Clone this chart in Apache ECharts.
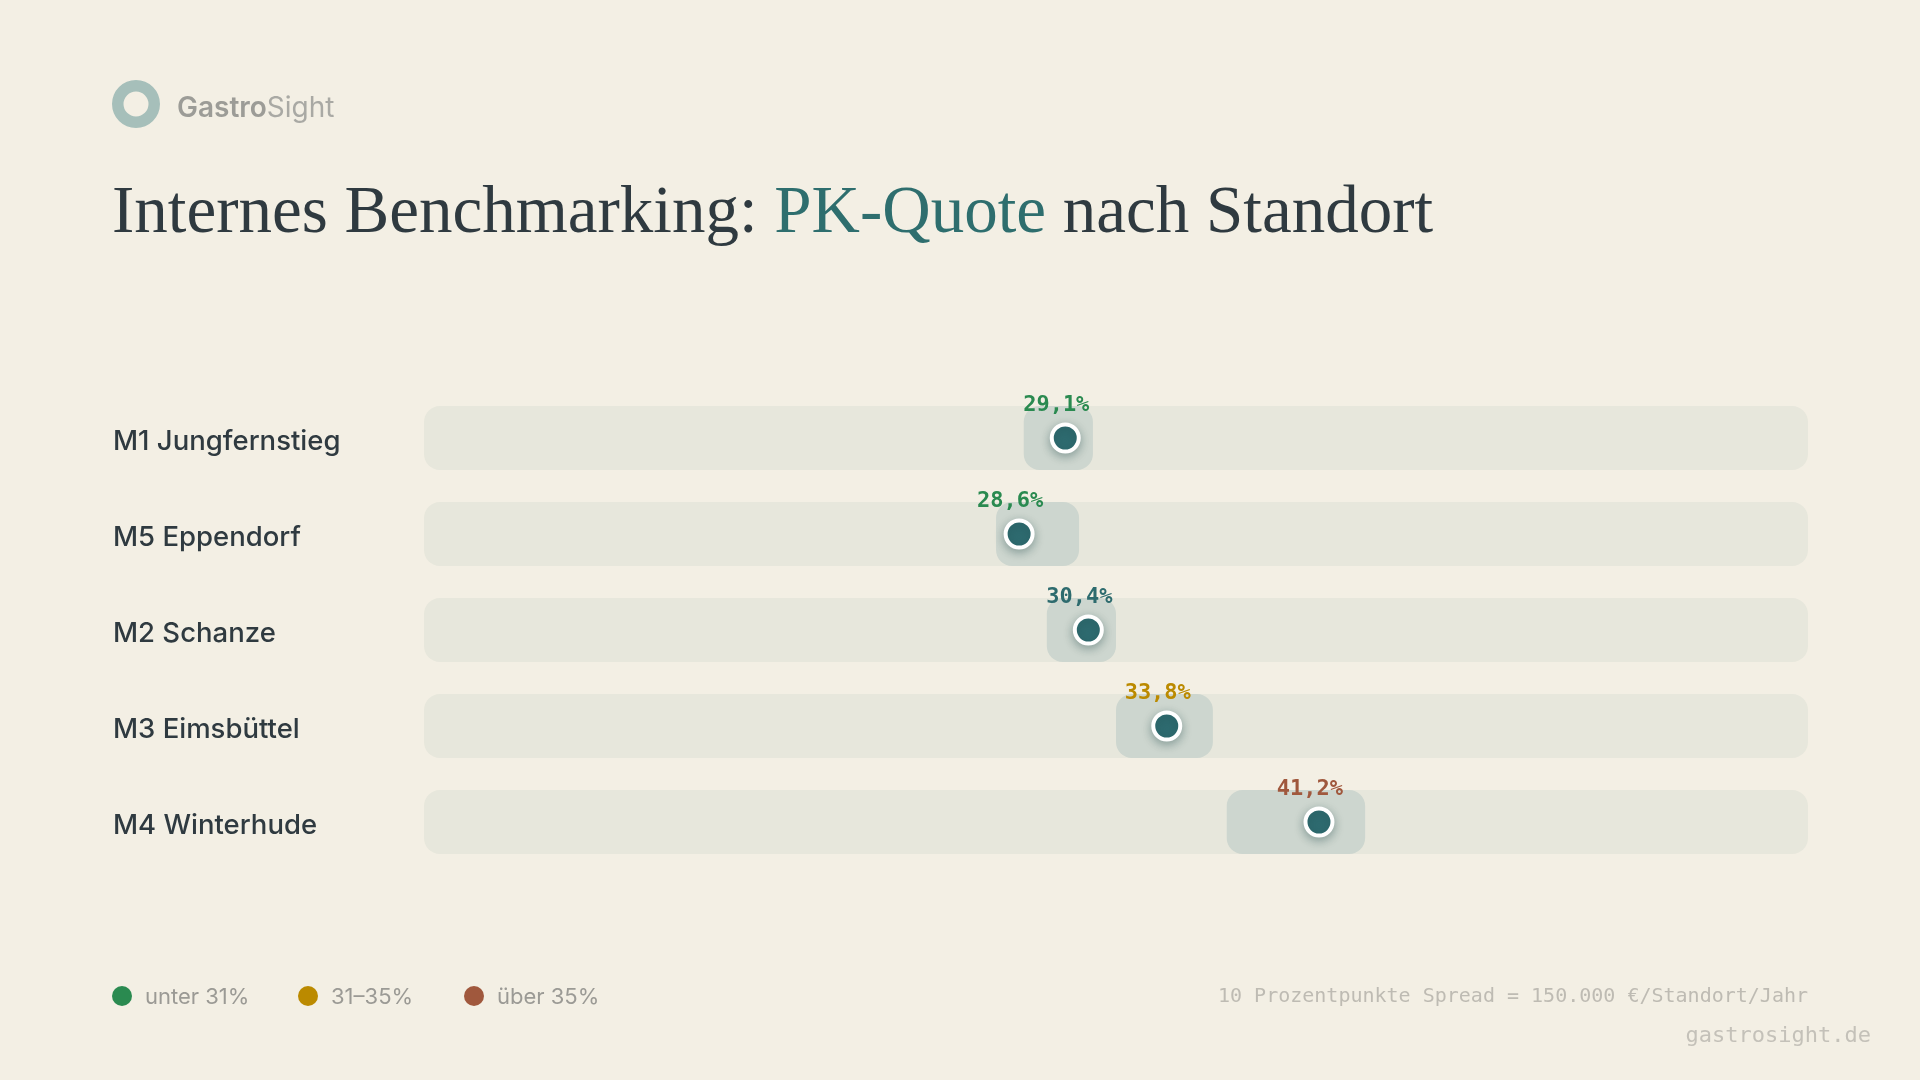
<!DOCTYPE html>
<html>
<head>
<meta charset="utf-8">
<script src="https://cdn.jsdelivr.net/npm/echarts@6/dist/echarts.min.js"></script>
<style>
  html, body { margin: 0; padding: 0; background: #f3efe4; }
  #chart { width: 1920px; height: 1080px; }
</style>
</head>
<body>
<div id="chart"></div>
<script>
// Standorte (von oben nach unten)
const standorte = ['M1 Jungfernstieg', 'M5 Eppendorf', 'M2 Schanze', 'M3 Eimsbüttel', 'M4 Winterhude'];
// PK-Quote laut Beschriftung
const quoteLabel = [29.1, 28.6, 30.4, 33.8, 41.2];
// Lage des Punkts auf der Skala
const punktWert = [33.9, 32.9, 34.4, 36.1, 39.4];
// Spannweite (Box) je Standort
const spanneVon = [33.0, 32.4, 33.5, 35.0, 37.4];
const spanneBis = [34.5, 34.2, 35.0, 37.1, 40.4];
// Farbe der Beschriftung je Standort
const labelFarbe = ['#2a8a50', '#2a8a50', '#2d6b6e', '#bb8a00', '#a0583d'];
// Skala
const skalaMin = 20;
const skalaMax = 50;
// Legende
const legendeText = ['unter 31%', '31–35%', 'über 35%'];
const legendeFarbe = ['#2a8a50', '#bb8a00', '#a0583d'];

const fmt = v => v.toFixed(1).replace('.', ',') + '%';

const chart = echarts.init(document.getElementById('chart'));

// Hintergrund-Spuren und Boxen als custom series
const spurDaten = standorte.map((s, i) => [skalaMin, skalaMax, i]);
const boxDaten = standorte.map((s, i) => [spanneVon[i], spanneBis[i], i]);

const renderRect = (fill) => (params, api) => {
    const a = api.coord([api.value(0), api.value(2)]);
    const b = api.coord([api.value(1), api.value(2)]);
    const h = api.size([0, 1])[1] * 0.667;
    return {
        type: 'rect',
        shape: { x: a[0], y: a[1] - h / 2, width: b[0] - a[0], height: h, r: 16 },
        style: { fill: fill }
    };
};

// Legende unten links
const legendGraphic = [];
const legendX = [112, 298, 464];
legendeText.forEach((t, i) => {
    legendGraphic.push({
        type: 'circle', shape: { cx: legendX[i] + 10, cy: 996, r: 10 },
        style: { fill: legendeFarbe[i] }
    });
    legendGraphic.push({
        type: 'text', x: legendX[i] + 33, y: 997,
        style: { text: t, fontFamily: 'Inter', fontSize: 22, fill: '#9b9a95', verticalAlign: 'middle' }
    });
});

const option = {
    backgroundColor: '#f3efe4',
    animation: false,
    grid: { left: 424, right: 112, top: 390, height: 480 },
    xAxis: { type: 'value', min: skalaMin, max: skalaMax, show: false },
    yAxis: {
        type: 'category',
        data: standorte,
        inverse: true,
        axisLine: { show: false },
        axisTick: { show: false },
        splitLine: { show: false },
        axisLabel: {
            align: 'left',
            margin: 311,
            formatter: v => '{n|' + v + '}',
            rich: {
                n: {
                    padding: [8, 0, 0, 0],
                    fontFamily: 'Inter',
                    fontSize: 27.5,
                    fontWeight: 500,
                    color: '#2f3a40'
                }
            }
        }
    },
    graphic: [
        {
            type: 'ring', shape: { cx: 136, cy: 104, r: 24, r0: 12.5 },
            style: { fill: '#a6bfba' }
        },
        {
            type: 'text', x: 177, y: 109,
            style: {
                text: '{a|Gastro}{b|Sight}',
                verticalAlign: 'middle',
                rich: {
                    a: { fontFamily: 'Inter', fontSize: 28, fontWeight: 600, fill: '#9c9c97' },
                    b: { fontFamily: 'Inter', fontSize: 28, fontWeight: 400, fill: '#a9a9a4' }
                }
            }
        },
        {
            type: 'text', x: 112, y: 214,
            style: {
                text: '{a|Internes Benchmarking: }{b|PK-Quote}{a| nach Standort}',
                verticalAlign: 'middle',
                rich: {
                    a: { fontFamily: 'Liberation Serif', fontSize: 67, fill: '#2f3a40' },
                    b: { fontFamily: 'Liberation Serif', fontSize: 67, fill: '#2e6e6e' }
                }
            }
        },
        ...legendGraphic,
        {
            type: 'text', x: 1808, y: 997,
            style: {
                text: '10 Prozentpunkte Spread = 150.000 €/Standort/Jahr',
                fontFamily: 'DejaVu Sans Mono', fontSize: 20, fill: '#bebbb3',
                align: 'right', verticalAlign: 'middle'
            }
        },
        {
            type: 'text', x: 1871, y: 1036,
            style: {
                text: 'gastrosight.de',
                fontFamily: 'DejaVu Sans Mono', fontSize: 22, fill: '#c4c1b9',
                align: 'right', verticalAlign: 'middle'
            }
        }
    ],
    series: [
        {
            type: 'custom',
            renderItem: renderRect('#e7e7dc'),
            data: spurDaten,
            silent: true,
            z: 1
        },
        {
            type: 'custom',
            renderItem: renderRect('#cdd6cf'),
            data: boxDaten,
            silent: true,
            z: 2
        },
        {
            type: 'scatter',
            z: 3,
            symbolSize: 27,
            itemStyle: {
                opacity: 1,
                color: '#2e6b70',
                borderColor: '#ffffff',
                borderWidth: 4,
                shadowBlur: 10,
                shadowColor: 'rgba(30, 70, 70, 0.35)',
                shadowOffsetY: 3
            },
            label: {
                show: true,
                position: 'top',
                distance: 6,
                offset: [-9, 0],
                fontFamily: 'DejaVu Sans Mono',
                fontWeight: 'bold',
                fontSize: 22
            },
            data: punktWert.map((v, i) => ({
                value: [v, i],
                label: { color: labelFarbe[i], formatter: fmt(quoteLabel[i]) }
            }))
        }
    ]
};

chart.setOption(option);
window.addEventListener('resize', () => chart.resize());
</script>
</body>
</html>
